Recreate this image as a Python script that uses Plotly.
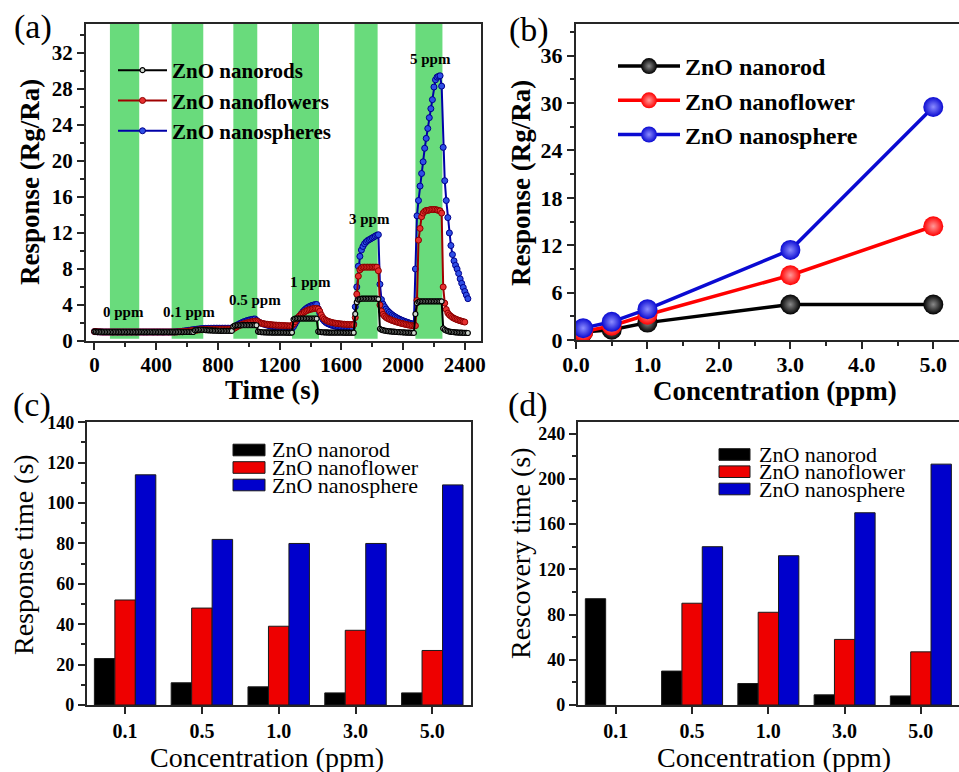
import plotly.graph_objects as go

# ---------------- (a) dynamic response curves, one sample every 10 s ----------------
time_s = list(range(0, 2430, 10))

nanorods_resp = [
    1.05, 1.03, 1.02, 1.02, 1.01, 1.01, 1.00, 1.00, 1.00, 1.00,
    1.00, 1.00, 0.99, 1.00, 1.00, 0.99, 1.00, 1.00, 0.99, 1.00,
    1.00, 0.99, 1.00, 1.00, 0.99, 1.00, 1.00, 0.99, 1.00, 1.00,
    1.00, 1.00, 0.99, 1.00, 0.99, 1.00, 1.00, 1.00, 0.99, 1.00,
    1.00, 0.99, 1.00, 1.00, 0.99, 0.99, 1.00, 1.00, 0.99, 1.00,
    1.00, 1.00, 0.99, 1.00, 1.00, 1.00, 1.00, 0.99, 1.00, 1.00,
    1.00, 1.00, 1.00, 1.00, 1.00, 1.18, 1.22, 1.24, 1.25, 1.25,
    1.24, 1.23, 1.21, 1.20, 1.19, 1.18, 1.17, 1.16, 1.15, 1.15,
    1.14, 1.14, 1.13, 1.13, 1.12, 1.12, 1.12, 1.12, 1.12, 1.12,
    1.62, 1.72, 1.74, 1.75, 1.75, 1.75, 1.76, 1.76, 1.76, 1.76,
    1.76, 1.76, 1.76, 1.76, 1.76, 1.75, 1.05, 1.00, 0.98, 0.97,
    0.96, 0.96, 0.95, 0.95, 0.95, 0.94, 0.94, 0.94, 0.94, 0.93,
    0.93, 0.93, 0.93, 0.93, 0.93, 0.92, 0.92, 0.92, 0.93, 2.40,
    2.48, 2.50, 2.50, 2.50, 2.50, 2.50, 2.50, 2.50, 2.50, 2.50,
    2.50, 2.50, 2.50, 2.50, 2.48, 1.05, 1.00, 0.98, 0.97, 0.96,
    0.95, 0.95, 0.94, 0.94, 0.94, 0.93, 0.93, 0.93, 0.93, 0.93,
    0.93, 0.93, 0.92, 0.92, 0.92, 0.92, 0.92, 0.92, 0.92, 3.00,
    4.30, 4.60, 4.65, 4.70, 4.70, 4.70, 4.70, 4.70, 4.70, 4.70,
    4.70, 4.70, 4.70, 4.70, 4.65, 1.35, 1.25, 1.20, 1.15, 1.12,
    1.10, 1.08, 1.06, 1.05, 1.03, 1.02, 1.00, 0.99, 0.98, 0.97,
    0.96, 0.95, 0.94, 0.93, 0.92, 0.92, 0.91, 0.90, 3.00, 4.20,
    4.35, 4.40, 4.40, 4.40, 4.40, 4.40, 4.40, 4.40, 4.40, 4.40,
    4.40, 4.40, 4.40, 4.40, 4.40, 4.40, 1.40, 1.25, 1.15, 1.10,
    1.05, 1.02, 1.00, 0.98, 0.96, 0.95, 0.94, 0.93, 0.92, 0.91,
    0.90, 0.90, 0.89,
]

nanoflowers_resp = [
    1.05, 1.03, 1.02, 1.01, 1.01, 1.00, 1.00, 1.00, 1.00, 1.00,
    1.00, 1.00, 1.00, 1.00, 1.00, 1.00, 1.00, 1.00, 1.00, 1.00,
    1.00, 1.00, 1.00, 1.00, 1.00, 1.00, 1.00, 1.00, 1.00, 1.00,
    1.00, 1.00, 1.00, 1.00, 1.00, 1.00, 1.00, 1.00, 1.00, 1.00,
    1.00, 1.00, 1.00, 1.00, 1.00, 1.00, 1.00, 1.00, 1.00, 1.00,
    1.00, 1.00, 1.00, 1.00, 1.01, 1.02, 1.03, 1.04, 1.05, 1.06,
    1.08, 1.10, 1.12, 1.14, 1.16, 1.18, 1.20, 1.22, 1.24, 1.25,
    1.26, 1.27, 1.28, 1.28, 1.29, 1.29, 1.30, 1.30, 1.30, 1.30,
    1.30, 1.30, 1.31, 1.31, 1.31, 1.31, 1.32, 1.32, 1.32, 1.32,
    1.35, 1.45, 1.55, 1.65, 1.73, 1.80, 1.86, 1.92, 1.97, 2.02,
    2.06, 2.10, 2.14, 2.18, 2.20, 2.22, 2.15, 2.05, 1.98, 1.94,
    1.90, 1.88, 1.86, 1.84, 1.82, 1.80, 1.78, 1.77, 1.76, 1.75,
    1.74, 1.73, 1.72, 1.71, 1.70, 1.69, 1.68, 1.68, 1.70, 1.90,
    2.15, 2.40, 2.62, 2.80, 2.96, 3.10, 3.22, 3.32, 3.40, 3.47,
    3.52, 3.56, 3.60, 3.62, 3.62, 3.55, 3.30, 2.90, 2.60, 2.42,
    2.30, 2.22, 2.15, 2.10, 2.05, 2.01, 1.98, 1.95, 1.93, 1.91,
    1.89, 1.87, 1.86, 1.85, 1.84, 1.83, 1.82, 1.81, 1.80, 2.60,
    5.20, 7.20, 7.90, 8.10, 8.20, 8.20, 8.20, 8.20, 8.20, 8.20,
    8.20, 8.20, 8.20, 8.20, 7.80, 4.00, 3.30, 2.95, 2.75, 2.60,
    2.50, 2.42, 2.35, 2.28, 2.22, 2.16, 2.10, 2.05, 2.00, 1.95,
    1.91, 1.87, 1.83, 1.79, 1.76, 1.73, 1.70, 1.68, 1.70, 4.50,
    11.2, 12.5, 13.8, 14.2, 14.4, 14.5, 14.5, 14.55, 14.6, 14.6,
    14.6, 14.6, 14.55, 14.5, 14.45, 14.2, 6.00, 4.20, 3.50, 3.10,
    2.90, 2.75, 2.62, 2.52, 2.44, 2.37, 2.30, 2.25, 2.20, 2.15,
    2.10, None, None,
]

nanospheres_resp = [
    1.05, 1.03, 1.02, 1.01, 1.01, 1.00, 1.00, 1.00, 1.00, 1.00,
    1.00, 1.00, 1.00, 1.00, 1.00, 1.00, 1.00, 1.00, 1.00, 1.00,
    1.00, 1.00, 1.00, 1.00, 1.00, 1.00, 1.00, 1.00, 1.00, 1.00,
    1.00, 1.00, 1.00, 1.00, 1.00, 1.00, 1.00, 1.00, 1.00, 1.00,
    1.00, 1.00, 1.00, 1.00, 1.00, 1.00, 1.00, 1.00, 1.00, 1.00,
    1.00, 1.00, 1.01, 1.02, 1.03, 1.05, 1.07, 1.09, 1.11, 1.13,
    1.15, 1.18, 1.20, 1.23, 1.25, 1.28, 1.30, 1.32, 1.34, 1.36,
    1.38, 1.39, 1.40, 1.40, 1.41, 1.41, 1.41, 1.42, 1.42, 1.42,
    1.42, 1.42, 1.42, 1.42, 1.42, 1.42, 1.42, 1.42, 1.42, 1.42,
    1.48, 1.60, 1.72, 1.82, 1.92, 2.00, 2.08, 2.15, 2.21, 2.27,
    2.32, 2.36, 2.40, 2.43, 2.45, 2.30, 2.15, 2.05, 1.98, 1.92,
    1.86, 1.81, 1.76, 1.72, 1.68, 1.64, 1.60, 1.57, 1.54, 1.51,
    1.49, 1.46, 1.44, 1.42, 1.40, 1.39, 1.38, 1.37, 1.38, 1.60,
    1.90, 2.20, 2.50, 2.78, 3.02, 3.24, 3.42, 3.58, 3.70, 3.80,
    3.88, 3.95, 4.00, 4.04, 4.06, 3.60, 3.10, 2.70, 2.40, 2.20,
    2.05, 1.95, 1.87, 1.80, 1.74, 1.69, 1.65, 1.61, 1.58, 1.55,
    1.53, 1.51, 1.49, 1.47, 1.46, 1.45, 1.44, 1.43, 1.90, 3.80,
    6.00, 8.30, 9.40, 10.1, 10.5, 10.8, 11.0, 11.15, 11.25, 11.35,
    11.45, 11.55, 11.65, 11.75, 11.80, 6.30, 4.60, 4.10, 3.80, 3.55,
    3.35, 3.18, 3.03, 2.90, 2.78, 2.67, 2.57, 2.48, 2.40, 2.32,
    2.25, 2.18, 2.12, 2.06, 2.00, 1.95, 1.90, 1.85, 8.00, 13.9,
    15.6, 17.2, 18.6, 19.9, 21.4, 22.5, 23.6, 24.8, 25.8, 26.8,
    28.2, 29.0, 29.3, 29.4, 29.45, 28.3, 21.5, 17.8, 15.6, 13.7,
    12.0, 10.6, 9.6, 8.9, 8.4, 8.0, 7.5, 6.9, 6.4, 5.95,
    5.5, 5.1, 4.7,
]

# gas-on windows (s) and their concentration tags
gas_on_start = [100, 500, 900, 1280, 1685, 2080]
gas_on_end = [290, 705, 1055, 1455, 1835, 2255]
ppm_tags = ["0 ppm", "0.1 ppm", "0.5 ppm", "1 ppm", "3 ppm", "5 ppm"]
ppm_tag_t = [186, 613, 1042, 1398, 1783, 2176]
ppm_tag_resp = [3.2, 3.2, 4.6, 6.6, 13.6, 31.3]

# ---------------- (b) response vs concentration ----------------
conc_ppm = [0.1, 0.5, 1.0, 3.0, 5.0]
resp_nanorod = [1.0, 1.3, 2.2, 4.5, 4.5]
resp_nanoflower = [1.05, 1.8, 3.2, 8.2, 14.4]
resp_nanosphere = [1.5, 2.3, 3.9, 11.4, 29.5]

# ---------------- (c) response time, (d) recovery time ----------------
conc_labels = ["0.1", "0.5", "1.0", "3.0", "5.0"]
resp_time_nanorod = [23, 11, 9, 6, 6]
resp_time_nanoflower = [52, 48, 39, 37, 27]
resp_time_nanosphere = [114, 82, 80, 80, 109]
rec_time_nanorod = [94, 30, 19, 9, 8]
rec_time_nanoflower = [None, 90, 82, 58, 47]
rec_time_nanosphere = [None, 140, 132, 170, 213]

W, H = 959, 772
SERIF = "Liberation Serif, Times New Roman, serif"
GREEN = "#69db7c"
BLACK = "#000000"
RED = "#ee0000"
BLUE = "#0000cc"


def px_x(px):
    return px / W


def px_y(py):
    return 1 - py / H


fig = go.Figure()

# ---- (a) traces (nanospheres drawn first so nanorods sit on top) ----
fig.add_trace(go.Scatter(
    x=time_s, y=nanospheres_resp, mode="lines+markers", name="ZnO nanospheres",
    line=dict(color="#0000a8", width=2),
    marker=dict(size=6, color="#2f4fe6", line=dict(color="#00008b", width=1)),
    xaxis="x", yaxis="y", legend="legend", legendrank=3,
))
fig.add_trace(go.Scatter(
    x=time_s, y=nanoflowers_resp, mode="lines+markers", name="ZnO nanoflowers",
    line=dict(color="#a00000", width=2),
    marker=dict(size=6, color="#e63030", line=dict(color="#8b0000", width=1)),
    xaxis="x", yaxis="y", legend="legend", legendrank=2,
))
fig.add_trace(go.Scatter(
    x=time_s, y=nanorods_resp, mode="lines+markers", name="ZnO nanorods",
    line=dict(color=BLACK, width=2),
    marker=dict(size=5, color="#cfd6cf", line=dict(color=BLACK, width=1.2)),
    xaxis="x", yaxis="y", legend="legend", legendrank=1,
))

# ---- (b) traces ----
for name, vals, col, center in [
    ("ZnO nanorod", resp_nanorod, BLACK, "#8a8a8a"),
    ("ZnO nanoflower", resp_nanoflower, "#ff0000", "#ff9a9a"),
    ("ZnO nanosphere", resp_nanosphere, "#0a0ad2", "#8c8cff"),
]:
    fig.add_trace(go.Scatter(
        x=conc_ppm, y=vals, mode="lines+markers", name=name,
        line=dict(color=col, width=3.5),
        marker=dict(size=20, color=col, line=dict(width=0),
                    gradient=dict(type="radial", color=center)),
        xaxis="x2", yaxis="y2", legend="legend2",
    ))

# ---- (c) and (d) bars ----
bar_series = [
    ("ZnO nanorod", BLACK, resp_time_nanorod, rec_time_nanorod),
    ("ZnO nanoflower", RED, resp_time_nanoflower, rec_time_nanoflower),
    ("ZnO nanosphere", BLUE, resp_time_nanosphere, rec_time_nanosphere),
]
for name, col, rt, rc in bar_series:
    fig.add_trace(go.Bar(x=conc_labels, y=rt, name=name, marker=dict(color=col, line=dict(color="#1a1a1a", width=1)),
                         xaxis="x3", yaxis="y3", showlegend=False))
    fig.add_trace(go.Bar(x=conc_labels, y=rc, name=name, marker=dict(color=col, line=dict(color="#1a1a1a", width=1)),
                         xaxis="x4", yaxis="y4", showlegend=False))

# ---- gas-on shading in (a) ----
shapes = []
for s, e in zip(gas_on_start, gas_on_end):
    shapes.append(dict(type="rect", xref="x", yref="y", x0=s, x1=e, y0=0.25, y1=35.2,
                       fillcolor=GREEN, line=dict(width=0), layer="below"))

annotations = []
for tag, tx, ty in zip(ppm_tags, ppm_tag_t, ppm_tag_resp):
    annotations.append(dict(x=tx, y=ty, xref="x", yref="y", text=tag, showarrow=False,
                            font=dict(family=SERIF, size=15, color=BLACK, weight="bold")))

# ---- legends for the bar panels: colour swatch + label ----
bar_legend_layout = [
    dict(x0=233, x1=265, rows=[450, 467.5, 485], text_x=270),
    dict(x0=719, x1=750, rows=[454.5, 471.7, 489], text_x=757),
]
for lay in bar_legend_layout:
    for (name, col, _, _), cy in zip(bar_series, lay["rows"]):
        shapes.append(dict(type="rect", xref="paper", yref="paper",
                           x0=px_x(lay["x0"]), x1=px_x(lay["x1"]),
                           y0=px_y(cy + 5.8), y1=px_y(cy - 5.8),
                           fillcolor=col, line=dict(color="#1a1a1a", width=1)))
        annotations.append(dict(x=px_x(lay["text_x"]), y=px_y(cy), xref="paper", yref="paper",
                                xanchor="left", yanchor="middle", text=name, showarrow=False,
                                font=dict(family=SERIF, size=22, color=BLACK)))

# ---- axis titles and panel letters ----
titles = [
    ("Response (Rg/Ra)", 30, 182, -90, True, 27),
    ("Time (s)", 272, 390, 0, True, 27),
    ("Response (Rg/Ra)", 521, 183, -90, True, 27),
    ("Concentration (ppm)", 775, 391, 0, True, 27),
    ("Response time (s)", 23, 555, -90, False, 28),
    ("Concentration (ppm)", 267, 757, 0, False, 28),
    ("Rescovery time (s)", 520, 553, -90, False, 28),
    ("Concentration (ppm)", 774, 757, 0, False, 28),
    ("(a)", 33, 27, 0, False, 34),
    ("(b)", 529, 30, 0, False, 34),
    ("(c)", 32, 405, 0, False, 34),
    ("(d)", 528, 405, 0, False, 34),
]
for text, cx, cy, ang, bold, size in titles:
    annotations.append(dict(x=px_x(cx), y=px_y(cy), xref="paper", yref="paper", text=text,
                            showarrow=False, textangle=ang, xanchor="center", yanchor="middle",
                            font=dict(family=SERIF, size=size, color=BLACK,
                                      weight="bold" if bold else "normal")))


def axis(domain, rng=None, dtick=None, minor=None, size=20, mirror=True, lw=2, fmt=None,
         cat=False, standoff=0):
    a = dict(domain=domain, showgrid=False, zeroline=False, showline=True, linecolor="#262626",
             linewidth=lw, mirror=mirror, ticks="outside", ticklen=7, tickwidth=lw,
             tickcolor="#262626", automargin=False, ticklabelstandoff=standoff,
             tickfont=dict(family=SERIF, size=size, color=BLACK, weight="bold"))
    if rng is not None:
        a["range"] = rng
    if dtick is not None:
        a["dtick"] = dtick
        a["tick0"] = 0
    if minor is not None:
        a["minor"] = dict(dtick=minor, tick0=0, ticks="outside", ticklen=4, tickwidth=lw,
                          tickcolor="#262626")
    if fmt:
        a["tickformat"] = fmt
    if cat:
        a["type"] = "category"
    return a


fig.update_layout(
    width=W, height=H,
    margin=dict(l=0, r=0, t=0, b=0, pad=0, autoexpand=False),
    paper_bgcolor="white", plot_bgcolor="white",
    barmode="group", bargap=0.2, bargroupgap=0,
    shapes=shapes, annotations=annotations,
    xaxis=axis([px_x(86), px_x(481)], [-55, 2505], 400, 200, size=21, standoff=-3),
    yaxis=axis([px_y(341), px_y(24)], [0, 35.2], 4, 2, size=21),
    xaxis2=dict(axis([px_x(576), 1.0], [0, 5.36], 1, 0.5, size=22, fmt=".1f", standoff=-3), anchor="y2"),
    yaxis2=dict(axis([px_y(340), px_y(24)], [0, 40], 6, 3, size=22, mirror=False), anchor="x2"),
    xaxis3=dict(axis([px_x(86.7), px_x(470.7)], size=20, lw=1.5, cat=True), anchor="y3"),
    yaxis3=dict(axis([px_y(705), px_y(422.3)], [0, 140], 20, 10, size=18, lw=1.5), anchor="x3"),
    xaxis4=dict(axis([px_x(577.7), 1.0], size=20, lw=1.5, cat=True), anchor="y4"),
    yaxis4=dict(axis([px_y(705), px_y(422.3)], [0, 250], 40, 20, size=18, lw=1.5, mirror=False), anchor="x4"),
    legend=dict(x=px_x(113), y=px_y(50), xanchor="left", yanchor="top", bgcolor="rgba(0,0,0,0)",
                itemwidth=49, font=dict(family=SERIF, size=21, color=BLACK, weight="bold")),
    legend2=dict(x=px_x(613), y=px_y(44), xanchor="left", yanchor="top", bgcolor="rgba(0,0,0,0)",
                 itemwidth=62, font=dict(family=SERIF, size=24, color=BLACK, weight="bold")),
)

fig.write_html("out.html")
